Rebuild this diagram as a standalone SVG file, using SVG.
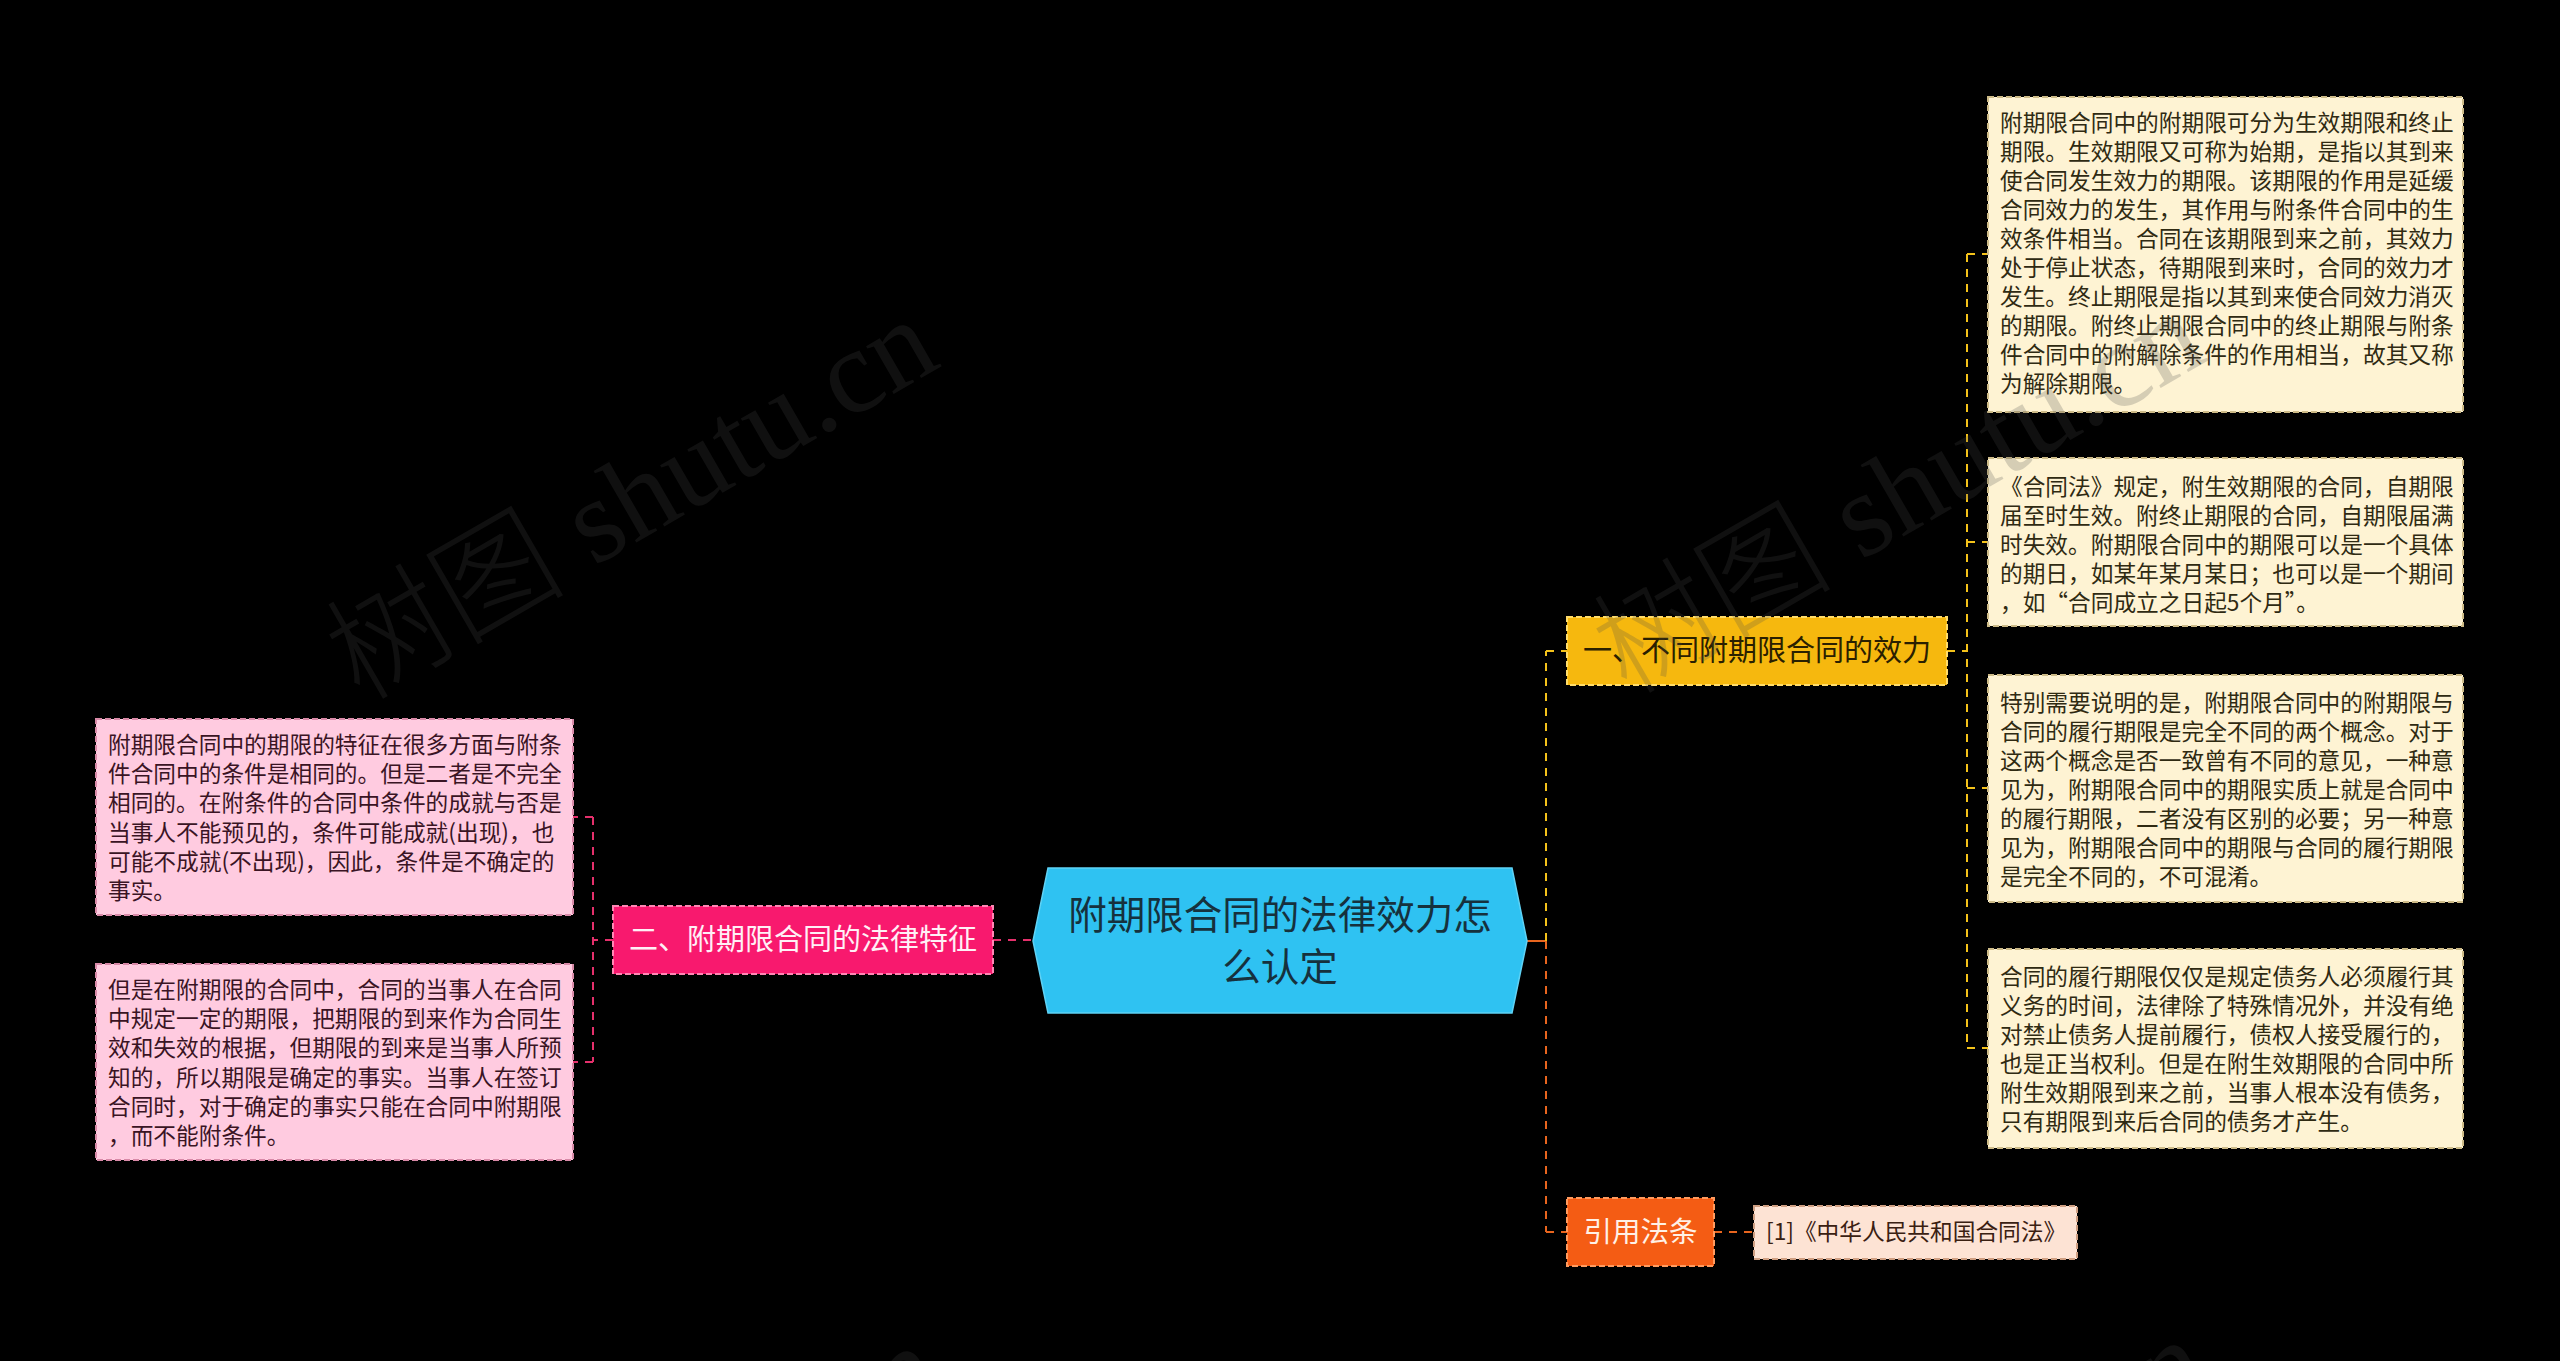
<svg xmlns="http://www.w3.org/2000/svg" width="2560" height="1361" viewBox="0 0 2560 1361">
<style>
.t{font-family:"Noto Sans CJK SC","Noto Sans",sans-serif;}
.leaf{font-size:22.7px;}
.yl{fill:#fef3d3;stroke:#cdbb88;stroke-width:2;stroke-dasharray:6,3;}
.yt{fill:#2f2a12;}
.pl{fill:#ffcbe0;stroke:#d98aa8;stroke-width:2;stroke-dasharray:6,3;}
.pt{fill:#3a1424;}
.cy{stroke:#f4c21a;stroke-width:2;fill:none;stroke-dasharray:8,7;}
.co{stroke:#e8651e;stroke-width:2;fill:none;stroke-dasharray:8,7;}
.cp{stroke:#e5306c;stroke-width:2;fill:none;stroke-dasharray:8,7;}
.wm{font-family:"Liberation Serif","Noto Sans CJK SC",serif;font-size:120px;font-weight:300;fill:#4a4a4a;opacity:0.22;}
</style>
<rect x="0" y="0" width="2560" height="1361" fill="#000000"/>

<g id="connectors">
  <line x1="993" y1="940" x2="1033" y2="940" class="cp"/>
  <line x1="613" y1="940" x2="593" y2="940" class="cp"/>
  <line x1="593" y1="817" x2="593" y2="1062" class="cp"/>
  <line x1="593" y1="817" x2="573" y2="817" class="cp"/>
  <line x1="593" y1="1062" x2="573" y2="1062" class="cp"/>
  <line x1="1527" y1="941" x2="1546" y2="941" stroke="#e8651e" stroke-width="2"/>
  <line x1="1546" y1="941" x2="1546" y2="651" class="cy"/>
  <line x1="1546" y1="651" x2="1567" y2="651" class="cy"/>
  <line x1="1546" y1="941" x2="1546" y2="1232" class="co"/>
  <line x1="1546" y1="1232" x2="1567" y2="1232" class="co"/>
  <line x1="1947" y1="651" x2="1967" y2="651" class="cy"/>
  <line x1="1967" y1="254" x2="1967" y2="1048" class="cy"/>
  <line x1="1967" y1="254" x2="1988" y2="254" class="cy"/>
  <line x1="1967" y1="542" x2="1988" y2="542" class="cy"/>
  <line x1="1967" y1="788" x2="1988" y2="788" class="cy"/>
  <line x1="1967" y1="1048" x2="1988" y2="1048" class="cy"/>
  <line x1="1714" y1="1232" x2="1754" y2="1232" class="co"/>
</g>

<g id="root">
  <polygon points="1033,941 1048,868 1512,868 1527,941 1512,1013 1048,1013" fill="#2fc2f2" stroke="#5fd2f5" stroke-width="1.5"/>
  <text class="t" x="1280" y="929" font-size="38.5" fill="#16313d" text-anchor="middle">附期限合同的法律效力怎</text>
  <text class="t" x="1280" y="981" font-size="38.5" fill="#16313d" text-anchor="middle">么认定</text>
</g>

<g id="branch-left">
  <rect x="613" y="906" width="380" height="68" fill="#f8196e" stroke="#ff86b4" stroke-width="2" stroke-dasharray="6,3"/>
  <text class="t" x="803" y="950" font-size="29" fill="#fff0f6" text-anchor="middle">二、附期限合同的法律特征</text>
</g>

<g id="leaf-left-1">
  <rect x="96" y="719" width="477" height="196" class="pl"/>
  <text class="t leaf pt" x="108" y="753">
    <tspan x="108" dy="0">附期限合同中的期限的特征在很多方面与附条</tspan>
    <tspan x="108" dy="29.2">件合同中的条件是相同的。但是二者是不完全</tspan>
    <tspan x="108" dy="29.2">相同的。在附条件的合同中条件的成就与否是</tspan>
    <tspan x="108" dy="29.2">当事人不能预见的，条件可能成就(出现)，也</tspan>
    <tspan x="108" dy="29.2">可能不成就(不出现)，因此，条件是不确定的</tspan>
    <tspan x="108" dy="29.2">事实。</tspan>
  </text>
</g>

<g id="leaf-left-2">
  <rect x="96" y="964" width="477" height="196" class="pl"/>
  <text class="t leaf pt" x="108" y="998">
    <tspan x="108" dy="0">但是在附期限的合同中，合同的当事人在合同</tspan>
    <tspan x="108" dy="29.2">中规定一定的期限，把期限的到来作为合同生</tspan>
    <tspan x="108" dy="29.2">效和失效的根据，但期限的到来是当事人所预</tspan>
    <tspan x="108" dy="29.2">知的，所以期限是确定的事实。当事人在签订</tspan>
    <tspan x="108" dy="29.2">合同时，对于确定的事实只能在合同中附期限</tspan>
    <tspan x="108" dy="29.2">，而不能附条件。</tspan>
  </text>
</g>

<g id="branch-right-1">
  <rect x="1567" y="617" width="380" height="68" fill="#f6b80e" stroke="#ffdc6a" stroke-width="2" stroke-dasharray="6,3"/>
  <text class="t" x="1757" y="661" font-size="29" fill="#2a2000" text-anchor="middle">一、不同附期限合同的效力</text>
</g>

<g id="leaf-right-1">
  <rect x="1988" y="97" width="475" height="315" class="yl"/>
  <text class="t leaf yt" x="2000" y="131">
    <tspan x="2000" dy="0">附期限合同中的附期限可分为生效期限和终止</tspan>
    <tspan x="2000" dy="29">期限。生效期限又可称为始期，是指以其到来</tspan>
    <tspan x="2000" dy="29">使合同发生效力的期限。该期限的作用是延缓</tspan>
    <tspan x="2000" dy="29">合同效力的发生，其作用与附条件合同中的生</tspan>
    <tspan x="2000" dy="29">效条件相当。合同在该期限到来之前，其效力</tspan>
    <tspan x="2000" dy="29">处于停止状态，待期限到来时，合同的效力才</tspan>
    <tspan x="2000" dy="29">发生。终止期限是指以其到来使合同效力消灭</tspan>
    <tspan x="2000" dy="29">的期限。附终止期限合同中的终止期限与附条</tspan>
    <tspan x="2000" dy="29">件合同中的附解除条件的作用相当，故其又称</tspan>
    <tspan x="2000" dy="29">为解除期限。</tspan>
  </text>
</g>

<g id="leaf-right-2">
  <rect x="1988" y="458" width="475" height="168" class="yl"/>
  <text class="t leaf yt" x="2000" y="495">
    <tspan x="2000" dy="0">《合同法》规定，附生效期限的合同，自期限</tspan>
    <tspan x="2000" dy="29">届至时生效。附终止期限的合同，自期限届满</tspan>
    <tspan x="2000" dy="29">时失效。附期限合同中的期限可以是一个具体</tspan>
    <tspan x="2000" dy="29">的期日，如某年某月某日；也可以是一个期间</tspan>
    <tspan x="2000" dy="29">，如“合同成立之日起5个月”。</tspan>
  </text>
</g>

<g id="leaf-right-3">
  <rect x="1988" y="675" width="475" height="227" class="yl"/>
  <text class="t leaf yt" x="2000" y="711">
    <tspan x="2000" dy="0">特别需要说明的是，附期限合同中的附期限与</tspan>
    <tspan x="2000" dy="29">合同的履行期限是完全不同的两个概念。对于</tspan>
    <tspan x="2000" dy="29">这两个概念是否一致曾有不同的意见，一种意</tspan>
    <tspan x="2000" dy="29">见为，附期限合同中的期限实质上就是合同中</tspan>
    <tspan x="2000" dy="29">的履行期限，二者没有区别的必要；另一种意</tspan>
    <tspan x="2000" dy="29">见为，附期限合同中的期限与合同的履行期限</tspan>
    <tspan x="2000" dy="29">是完全不同的，不可混淆。</tspan>
  </text>
</g>

<g id="leaf-right-4">
  <rect x="1988" y="949" width="475" height="199" class="yl"/>
  <text class="t leaf yt" x="2000" y="985">
    <tspan x="2000" dy="0">合同的履行期限仅仅是规定债务人必须履行其</tspan>
    <tspan x="2000" dy="29">义务的时间，法律除了特殊情况外，并没有绝</tspan>
    <tspan x="2000" dy="29">对禁止债务人提前履行，债权人接受履行的，</tspan>
    <tspan x="2000" dy="29">也是正当权利。但是在附生效期限的合同中所</tspan>
    <tspan x="2000" dy="29">附生效期限到来之前，当事人根本没有债务，</tspan>
    <tspan x="2000" dy="29">只有期限到来后合同的债务才产生。</tspan>
  </text>
</g>

<g id="branch-right-2">
  <rect x="1567" y="1198" width="147" height="68" fill="#f45c14" stroke="#ff9a5e" stroke-width="2" stroke-dasharray="6,3"/>
  <text class="t" x="1640.5" y="1242" font-size="28.5" fill="#fff1e6" text-anchor="middle">引用法条</text>
</g>

<g id="leaf-citation">
  <rect x="1754" y="1206" width="323" height="53" fill="#fde3d4" stroke="#cf9f82" stroke-width="2" stroke-dasharray="6,3"/>
  <text class="t leaf" x="1766" y="1240" fill="#3a2012">[1]《中华人民共和国合同法》</text>
</g>

<g id="watermark">
  <text class="wm" transform="translate(360,702) rotate(-30)">树图 shutu.cn</text>
  <text class="wm" transform="translate(1627,696) rotate(-30)">树图 shutu.cn</text>
  <text class="wm" transform="translate(364,1728) rotate(-30)">树图 shutu.cn</text>
  <text class="wm" transform="translate(1631,1722) rotate(-30)">树图 shutu.cn</text>
</g>
</svg>
